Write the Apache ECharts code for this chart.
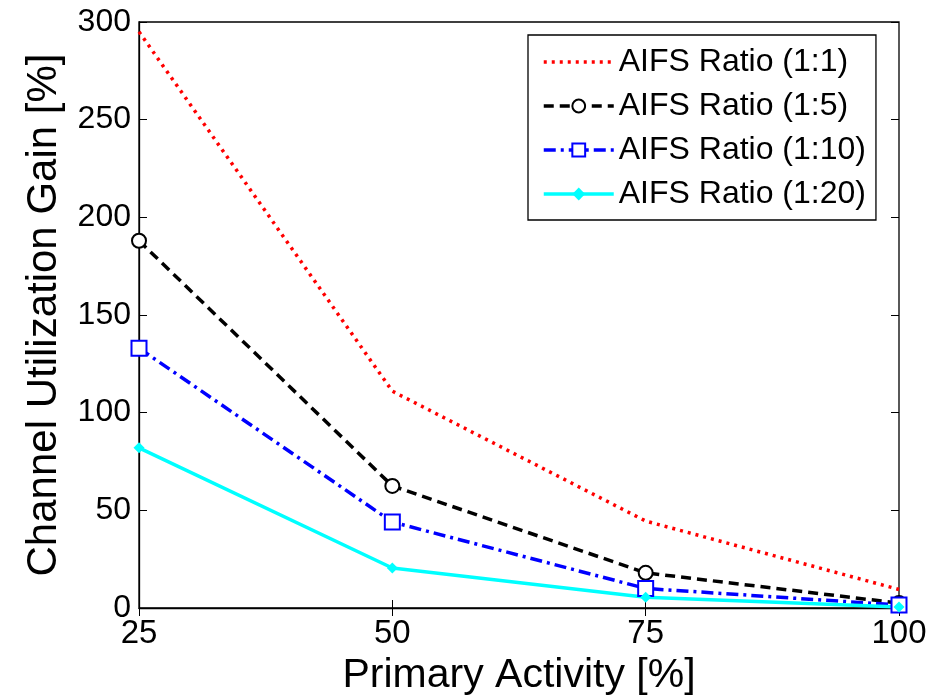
<!DOCTYPE html>
<html>
<head>
<meta charset="utf-8">
<script src="https://cdn.jsdelivr.net/npm/echarts@6/dist/echarts.min.js"></script>
<style>
  html, body { margin: 0; padding: 0; background: #fff; }
  #chart { width: 929px; height: 697px; }
</style>
</head>
<body>
<div id="chart"></div>
<script>
// primary activity [%]
const activity = [25, 50, 75, 100];
// channel utilization gain [%] per AIFS ratio
const ratio1to1 = [295, 111, 44.5, 9.5];
const ratio1to5 = [188, 62.5, 18, 2.5];
const ratio1to10 = [133, 44, 10, 1.5];
const ratio1to20 = [82, 20.5, 5.5, 0.5];
const yTicks = [0, 50, 100, 150, 200, 250, 300];

const font = 'Liberation Sans, Arial, sans-serif';

const pairs = vals => activity.map((x, i) => [x, vals[i]]);

const chart = echarts.init(document.getElementById('chart'));
chart.setOption({
  animation: false,
  backgroundColor: '#fff',
  grid: {
    left: 139, top: 22, right: 30, bottom: 89,
    outerBoundsMode: 'none',
    show: true, borderColor: '#000', borderWidth: 1.3, backgroundColor: 'transparent'
  },
  legend: {
    orient: 'vertical',
    left: 528, top: 35,
    padding: [11, 10, 10, 14],
    itemGap: 12,
    itemWidth: 70,
    itemHeight: 16,
    backgroundColor: '#fff',
    borderColor: '#000',
    borderWidth: 1.3,
    lineStyle: { width: 3.5 },
    textStyle: { fontFamily: font, fontSize: 32, color: '#000' },
    data: [
      { name: 'AIFS Ratio (1:1)', itemStyle: { opacity: 0 } },
      'AIFS Ratio (1:5)', 'AIFS Ratio (1:10)', 'AIFS Ratio (1:20)'
    ]
  },
  xAxis: [
    {
      type: 'value', min: 25, max: 100, interval: 25,
      name: 'Primary Activity [%]', nameLocation: 'middle', nameGap: 43,
      nameTextStyle: { fontFamily: font, fontSize: 41, color: '#000' },
      axisLine: { lineStyle: { color: '#000', width: 1.3 } },
      axisTick: { inside: true, length: 8, lineStyle: { color: '#000' } },
      axisLabel: { fontFamily: font, fontSize: 33, color: '#000', margin: 9 },
      splitLine: { show: false }
    },
    {
      type: 'value', min: 25, max: 100, interval: 25, position: 'top',
      axisLine: { show: false },
      axisTick: { inside: true, length: 8, lineStyle: { color: '#000' } },
      axisLabel: { show: false },
      splitLine: { show: false }
    }
  ],
  yAxis: [
    {
      type: 'value', min: 0, max: 300, interval: 50,
      name: 'Channel Utilization Gain [%]', nameLocation: 'middle', nameGap: 74,
      nameTextStyle: { fontFamily: font, fontSize: 42, color: '#000' },
      axisLine: { show: true, lineStyle: { color: '#000', width: 1.3 } },
      axisTick: { show: true, inside: true, length: 8, lineStyle: { color: '#000' } },
      axisLabel: {
        fontFamily: font, fontSize: 32, color: '#000', margin: 8,
        formatter: v => yTicks.includes(v) ? String(v) : ''
      },
      splitLine: { show: false }
    },
    {
      type: 'value', min: 0, max: 300, interval: 50, position: 'right',
      axisLine: { show: false },
      axisTick: { show: true, inside: true, length: 8, lineStyle: { color: '#000' } },
      axisLabel: { show: false },
      splitLine: { show: false }
    }
  ],
  series: [
    {
      name: 'AIFS Ratio (1:1)', type: 'line', data: pairs(ratio1to1),
      showSymbol: false, symbol: 'none',
      lineStyle: { color: '#ff0000', width: 3.5, type: [3, 5] },
      itemStyle: { color: '#ff0000' }
    },
    {
      name: 'AIFS Ratio (1:5)', type: 'line', data: pairs(ratio1to5),
      symbol: 'emptyCircle', symbolSize: 14,
      lineStyle: { color: '#000', width: 3.5, type: [10, 6] },
      itemStyle: { color: '#000', borderColor: '#000', borderWidth: 2.5 }
    },
    {
      name: 'AIFS Ratio (1:10)', type: 'line', data: pairs(ratio1to10),
      symbol: 'emptyRect', symbolSize: 15,
      lineStyle: { color: '#0000ff', width: 3.5, type: [12, 5, 3, 5] },
      itemStyle: { color: '#0000ff', borderColor: '#0000ff', borderWidth: 3 }
    },
    {
      name: 'AIFS Ratio (1:20)', type: 'line', data: pairs(ratio1to20),
      symbol: 'diamond', symbolSize: 11,
      lineStyle: { color: '#00ffff', width: 3.5 },
      itemStyle: { color: '#00ffff' }
    }
  ]
});
</script>
</body>
</html>
